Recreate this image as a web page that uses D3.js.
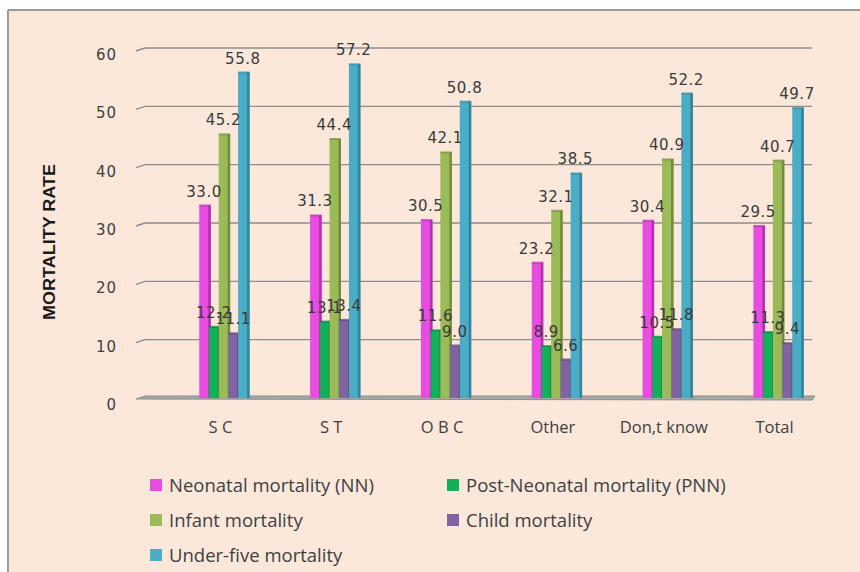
<!DOCTYPE html>
<html>
<head>
<meta charset="utf-8">
<script src="https://cdn.jsdelivr.net/npm/d3@7"></script>
<style>
  html, body { margin: 0; padding: 0; background: #fff; }
  svg { display: block; font-family: 'Open Sans', 'DejaVu Sans', sans-serif; }
</style>
</head>
<body>
<div id="chart"></div>
<script>
var categories = ['S C', 'S T', 'O B C', 'Other', 'Don,t know', 'Total']
var seriesNames = [
  'Neonatal mortality (NN)',
  'Post-Neonatal mortality (PNN)',
  'Infant mortality',
  'Child mortality',
  'Under-five mortality'
]
var neonatal = [33.0, 31.3, 30.5, 23.2, 30.4, 29.5]
var postNeonatal = [12.2, 13.1, 11.6, 8.9, 10.5, 11.3]
var infant = [45.2, 44.4, 42.1, 32.1, 40.9, 40.7]
var child = [11.1, 13.4, 9.0, 6.6, 11.8, 9.4]
var underFive = [55.8, 57.2, 50.8, 38.5, 52.2, 49.7]
var yTicks = [0, 10, 20, 30, 40, 50, 60]

var seriesValues = [neonatal, postNeonatal, infant, child, underFive]
var colors = ['#e84ce0', '#13b05a', '#9bbb59', '#8064a2', '#4bacc6']
var sides = ['#b32fae', '#0c7f3f', '#728c3e', '#5d4679', '#31849b']

var W = 860, H = 572
var svg = d3.select('#chart').append('svg')
  .attr('width', W).attr('height', H)

// panel
svg.append('rect').attr('x', 8).attr('y', 10).attr('width', W).attr('height', H)
  .attr('fill', '#fbe8db')
svg.append('line').attr('x1', 8).attr('x2', W).attr('y1', 10).attr('y2', 10)
  .attr('stroke', '#9a9a9a').attr('stroke-width', 2)
svg.append('line').attr('x1', 8).attr('x2', 8).attr('y1', 10).attr('y2', H)
  .attr('stroke', '#9a9a9a').attr('stroke-width', 2)

var y = d3.scaleLinear().domain([0, 60]).range([398, 48])
var x = d3.scaleBand().domain(categories).range([165, 830])
var x1 = d3.scaleBand().domain(d3.range(seriesNames.length)).range([-24.25, 24.25])
var groupShift = 4
var barW = 11.5

// grid lines with small 3D curl at left
var grid = svg.append('g').attr('class', 'grid')
grid.selectAll('path').data(yTicks.filter(function (d) { return d > 0 }))
  .enter().append('path')
  .attr('d', function (d) { return 'M136,' + (y(d) + 3) + 'L145,' + y(d) + 'L812,' + y(d) })
  .attr('fill', 'none').attr('stroke', '#8c8c8c').attr('stroke-width', 1.4)
// floor
grid.append('path')
  .attr('d', 'M136,' + (y(0) + 1) + 'L145,' + (y(0) - 2) + 'L815,' + (y(0) - 2) + 'L812,' + (y(0) + 2) + 'Z')
  .attr('fill', '#a8a8a8').attr('stroke', '#8c8c8c').attr('stroke-width', 1)

// y tick labels
svg.append('g').selectAll('text').data(yTicks).enter().append('text')
  .attr('x', 117).attr('y', function (d) { return y(d) + 12 })
  .attr('text-anchor', 'end').attr('font-size', 15).attr('fill', '#404040')
  .attr('font-family', 'DejaVu Sans').attr('letter-spacing', 1)
  .text(function (d) { return d })

svg.append('text')
  .attr('transform', 'translate(55,242) rotate(-90)')
  .attr('text-anchor', 'middle').attr('font-size', 17).attr('font-weight', 'bold')
  .attr('fill', '#1a1a1a').attr('textLength', 156).attr('lengthAdjust', 'spacingAndGlyphs')
  .attr('font-family', 'Liberation Sans')
  .text('MORTALITY RATE')

// bars
var bw = x1.bandwidth()
var groups = svg.append('g').attr('class', 'data').selectAll('g')
  .data(categories).enter().append('g')
  .attr('transform', function (d) { return 'translate(' + (x(d) + x.bandwidth() / 2 + groupShift) + ',0)' })

groups.each(function (cat, ci) {
  var g = d3.select(this)
  seriesValues.forEach(function (vals, si) {
    var v = vals[ci]
    var bx = x1(si) + bw / 2 - barW / 2
    g.append('rect').attr('x', bx).attr('y', y(v)).attr('width', barW).attr('height', y(0) - y(v))
      .attr('fill', colors[si])
    g.append('rect').attr('x', bx + barW - 2.5).attr('y', y(v)).attr('width', 2.5).attr('height', y(0) - y(v))
      .attr('fill', sides[si])
    g.append('rect').attr('x', bx).attr('y', y(v) - 1).attr('width', barW).attr('height', 2)
      .attr('fill', sides[si]).attr('opacity', 0.7)
  })
  seriesValues.forEach(function (vals, si) {
    var v = vals[ci]
    g.append('text')
      .attr('x', x1(si) + bw / 2 - 1).attr('y', y(v) - 9)
      .attr('text-anchor', 'middle').attr('font-size', 15).attr('fill', '#3a3a3a')
      .attr('font-family', 'DejaVu Sans').attr('letter-spacing', 0.5)
      .text(v.toFixed(1))
  })
})

// x labels
svg.append('g').selectAll('text').data(categories).enter().append('text')
  .attr('x', function (d) { return x(d) + x.bandwidth() / 2 }).attr('y', 433)
  .attr('text-anchor', 'middle').attr('font-size', 16.5).attr('fill', '#404040')
  .text(function (d) { return d })

// legend
var legendPos = [[150, 485], [447, 485], [150, 520], [447, 520], [150, 555]]
var legend = svg.append('g').selectAll('g').data(seriesNames).enter().append('g')
  .attr('transform', function (d, i) { return 'translate(' + legendPos[i][0] + ',' + legendPos[i][1] + ')' })
legend.append('rect').attr('x', 0).attr('y', -6).attr('width', 12).attr('height', 12)
  .attr('fill', function (d, i) { return colors[i] })
legend.append('text').attr('x', 19).attr('y', 6.5)
  .attr('font-size', 18.5).attr('fill', '#404040')
  .text(function (d) { return d })
</script>
</body>
</html>
